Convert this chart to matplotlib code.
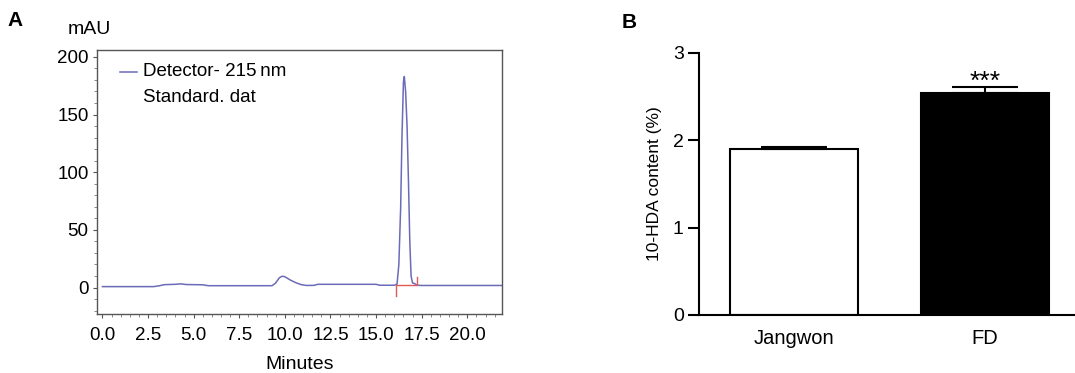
import matplotlib
matplotlib.use("Agg")
import matplotlib.pyplot as plt
from matplotlib.ticker import MultipleLocator, FormatStrFormatter

plt.rcParams['font.family'] = ['Liberation Sans', 'DejaVu Sans']

# chromatogram points (minutes, mAU)
time_min = [0.0, 2.8, 3.1, 3.4, 4.0, 4.3, 4.6, 5.5, 5.8, 9.3, 9.5, 9.7, 9.85,
            10.0, 10.3, 10.6, 10.9, 11.2, 11.6, 11.8, 15.0, 15.2, 16.0, 16.15,
            16.25, 16.35, 16.42, 16.5, 16.55, 16.62, 16.7, 16.78, 16.85, 16.92,
            17.0, 17.1, 17.25, 17.5, 22.0]
signal_mau = [0.8, 0.8, 1.5, 2.5, 2.8, 3.2, 2.6, 2.4, 1.6, 1.6, 4.0, 8.5, 9.8,
              9.4, 6.5, 4.2, 2.5, 1.8, 1.9, 2.8, 2.8, 2.0, 2.0, 3.0,
              20, 70, 130, 178, 183, 170, 140, 90, 40, 10,
              4.0, 3.5, 2.0, 1.8, 1.8]
# integration baseline (red)
base_t = [16.07, 16.07, 17.26, 17.26]
base_y = [-7, 2.0, 2.0, 9]

groups = ['Jangwon', 'FD']
content = [1.90, 2.535]
content_err = [0.02, 0.07]

fig = plt.figure(figsize=(10.75, 3.73), dpi=100)

# ---- panel A
ax = fig.add_axes([0.0902, 0.158, 0.3767, 0.708])
ax.plot(time_min, signal_mau, color='#6b6bb8', lw=1.1)
ax.plot(base_t, base_y, color='#e05a5a', lw=1.0)
ax.set_xlim(-0.3, 21.9)
ax.set_ylim(-23, 206)
ax.xaxis.set_major_locator(MultipleLocator(2.5))
ax.xaxis.set_minor_locator(MultipleLocator(0.5))
ax.yaxis.set_major_locator(MultipleLocator(50))
ax.yaxis.set_minor_locator(MultipleLocator(10))
ax.xaxis.set_major_formatter(FormatStrFormatter('%.1f'))
ax.tick_params(which='major', length=3, width=0.8, color='#555555', labelsize=13.5)
ax.tick_params(axis='x', which='major', pad=6)
ax.tick_params(axis='y', which='major', pad=3)
ax.tick_params(which='minor', length=2, width=0.6, color='#777777')
for s in ax.spines.values():
    s.set_color('#555555')
    s.set_linewidth(1.0)
ax.set_xlabel('Minutes', fontsize=14, labelpad=9)
ax.plot([0.95, 1.9], [187, 187], color='#6b6bb8', lw=1.1)
ax.text(2.2, 187, 'Detector- 215\u2009nm', fontsize=13.5, va='center')
ax.text(2.2, 165, 'Standard. dat', fontsize=13.5, va='center')
fig.text(0.063, 0.92, 'mAU', fontsize=14, ha='left', va='center')
fig.text(0.007, 0.945, 'A', fontsize=15, fontweight='bold', va='center')

# ---- panel B
bx = fig.add_axes([0.6502, 0.1555, 0.3544, 0.7032])
pos = list(range(len(groups)))
bx.bar(pos, content, width=0.672, color=['white', 'black'], edgecolor='black',
       linewidth=1.5, zorder=2)
bx.errorbar(pos, content, yerr=[[0, 0], content_err], fmt='none', ecolor='black',
            elinewidth=1.5, capsize=24, capthick=1.5, zorder=3)
bx.text(pos[1], 2.665, '***', ha='center', va='center', fontsize=19)
bx.set_xlim(-0.5, 1.5)
bx.set_ylim(0, 3)
bx.set_yticks([0, 1, 2, 3])
bx.set_xticks(pos)
bx.set_xticklabels(groups)
bx.spines['top'].set_visible(False)
bx.spines['right'].set_visible(False)
bx.spines['left'].set_linewidth(1.5)
bx.spines['bottom'].set_linewidth(1.5)
bx.tick_params(axis='y', length=8, width=1.5, labelsize=14, pad=3)
bx.tick_params(axis='x', length=0, labelsize=14.5, pad=10)
bx.set_ylabel('10-HDA content (%)', fontsize=12.5, labelpad=8)
fig.text(0.578, 0.94, 'B', fontsize=15, fontweight='bold', va='center')

fig.savefig('out.png', dpi=100)
